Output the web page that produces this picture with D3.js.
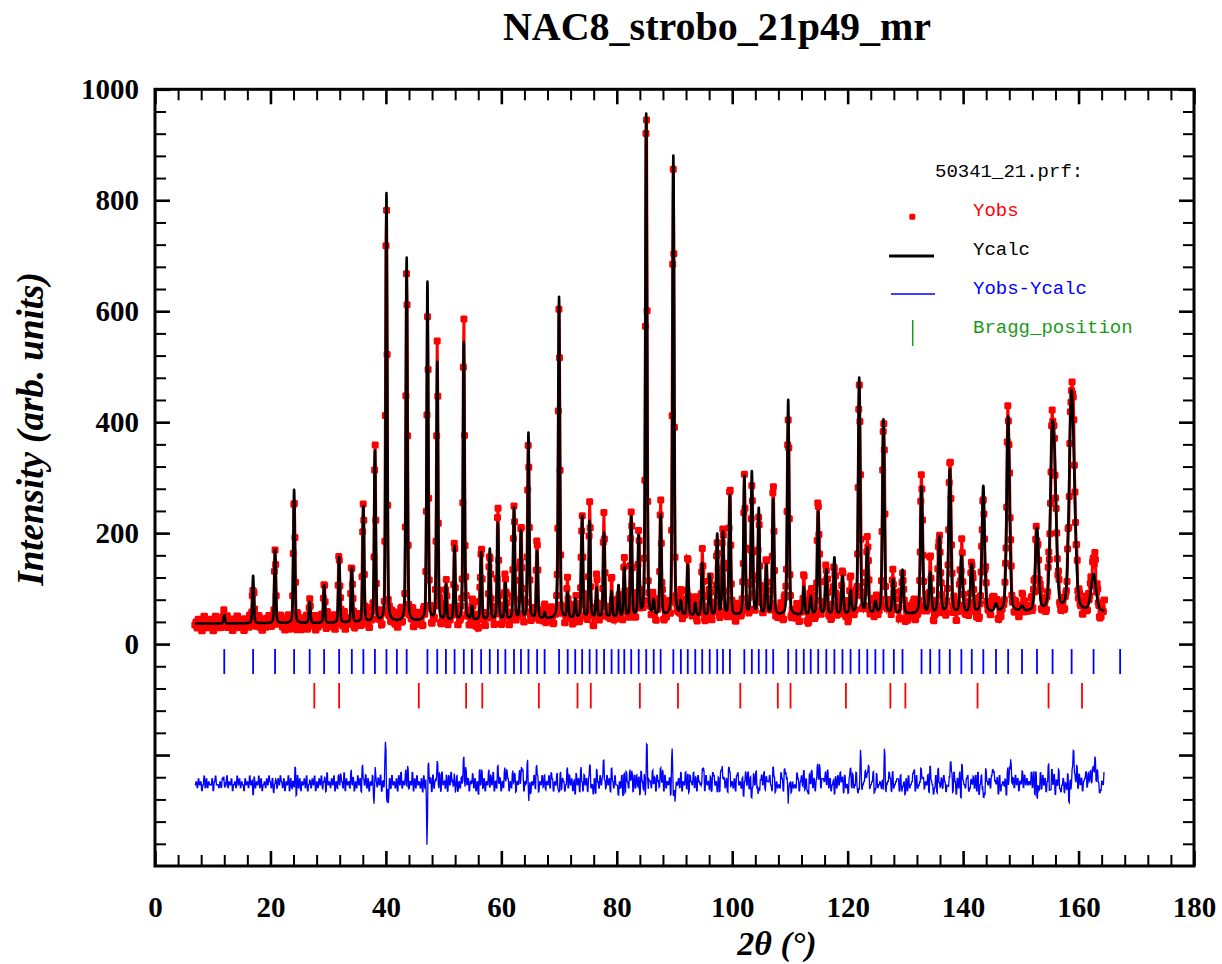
<!DOCTYPE html>
<html>
<head>
<meta charset="utf-8">
<script src="https://cdn.jsdelivr.net/npm/d3@7/dist/d3.min.js"></script>
<style>
  html,body{margin:0;padding:0;background:#ffffff;}
  svg{display:block;}
</style>
</head>
<body>
<svg id="chart" width="1222" height="964"></svg>
<script>
// ---------------- data ----------------
const chartTitle = "NAC8_strobo_21p49_mr";
const fileLabel = "50341_21.prf:";
const legendLabels = ["Yobs", "Ycalc", "Yobs-Ycalc", "Bragg_position"];
const xMajorTicks = [0, 20, 40, 60, 80, 100, 120, 140, 160, 180];
const yMajorTicks = [-200, 0, 200, 400, 600, 800, 1000];
const yLabelTicks = [0, 200, 400, 600, 800, 1000];

const scanStart = 6.9, scanEnd = 164.5;

// background points (2theta, counts)
const bgAngle = [6.9, 30, 50, 70, 90, 110, 130, 150, 164.5];
const bgLevel = [37, 38, 42, 46, 50, 52, 54, 57, 58];

// reflections: position (deg), calculated top, observed top, observed offset (deg)
const peakPos = [12.0, 17.0, 20.8, 24.1, 26.8, 29.3, 31.9, 34.1, 36.1, 38.1,
  40.1, 43.6, 47.2, 48.9, 50.4, 51.9, 53.5, 54.9, 56.5, 58.0,
  59.4, 60.7, 62.2, 63.4, 64.7, 66.2, 67.5, 70.0, 71.5, 72.8,
  74.0, 75.3, 76.5, 77.8, 79.1, 80.3, 81.3, 82.5, 83.8, 85.1,
  86.4, 87.6, 89.8, 91.1, 92.3, 93.6, 94.8, 96.1, 97.4, 98.4,
  99.6, 102.1, 103.4, 104.6, 105.9, 107.1, 109.7, 112.4, 113.6, 114.9,
  116.3, 117.7, 119.1, 120.5, 122.0, 123.4, 124.8, 126.2, 127.9, 129.5,
  132.8, 134.3, 135.9, 137.7, 139.7, 141.5, 143.5, 145.7, 147.8, 150.2,
  152.8, 155.4, 155.9, 158.7, 159.2, 162.6];
const calcTop = [52, 123, 170, 278, 76, 106, 157, 137, 248, 347,
  812, 696, 652, 507, 106, 175, 544, 67, 165, 171,
  218, 109, 245, 203, 380, 166, 56, 626, 92, 80,
  230, 221, 100, 200, 94, 105, 137, 228, 191, 955,
  75, 231, 880, 75, 142, 73, 145, 124, 197, 200,
  267, 301, 309, 243, 141, 260, 440, 103, 85, 239,
  133, 155, 121, 94, 479, 171, 74, 404, 115, 133,
  283, 127, 193, 314, 157, 142, 284, 70, 410, 66,
  206, 328, 248, 388, 208, 124];
const obsTop = [63, 125, 174, 276, 78, 104, 160, 140, 252, 350,
  817, 716, 605, 534, 110, 172, 570, 70, 168, 178,
  228, 120, 252, 222, 378, 168, 62, 615, 95, 85,
  228, 233, 98, 202, 96, 103, 141, 240, 188, 990,
  78, 246, 878, 78, 145, 75, 159, 125, 195, 214,
  265, 300, 305, 260, 140, 258, 420, 100, 88, 254,
  135, 158, 120, 111, 488, 168, 80, 428, 118, 131,
  278, 130, 190, 312, 162, 145, 290, 72, 425, 68,
  205, 330, 250, 383, 212, 150];
const obsShift = [0, 0, 0, 0, 0, 0, 0, 0, 0, 0.02,
  -0.02, 0, 0.025, 0, 0, -0.02, 0, 0, 0, 0,
  0, 0, 0, 0, -0.015, 0, 0, 0, 0, 0,
  0, 0, 0, 0, 0, 0, 0, 0, 0, 0.01,
  0, 0, -0.015, 0, 0, 0, 0, 0, 0, 0,
  0, 0, 0, 0, 0, 0, -0.02, 0, 0, 0,
  0, 0, 0, 0, 0.025, 0, 0, 0.02, 0, 0,
  0, 0, 0, 0, 0, 0, 0, 0, 0.02, 0,
  -0.03, 0, 0, 0.035, 0, 0];

// Bragg reflection markers
const braggPhase1 = [12.0, 17.0, 20.8, 24.1, 26.8, 29.3, 31.9, 34.1, 36.1, 38.1,
  40.1, 41.9, 43.6, 47.2, 48.9, 50.4, 51.9, 53.5, 54.9, 56.5,
  58.0, 59.4, 60.7, 62.2, 63.4, 64.7, 66.2, 67.5, 70.0, 71.5,
  72.8, 74.0, 75.3, 76.5, 77.8, 79.1, 80.3, 81.3, 82.5, 83.8,
  85.1, 86.4, 87.6, 89.8, 91.1, 92.3, 93.6, 94.8, 96.1, 97.4,
  98.4, 99.6, 102.1, 103.4, 104.6, 105.9, 107.1, 109.7, 111.1, 112.4,
  113.6, 114.9, 116.3, 117.7, 119.1, 120.5, 122.0, 123.4, 124.8, 126.2,
  128.0, 129.5, 132.8, 134.3, 135.9, 137.7, 139.7, 141.5, 143.5, 145.7,
  147.8, 150.2, 152.8, 155.5, 158.8, 162.6, 167.2];
const braggPhase2 = [27.6, 31.9, 45.7, 53.9, 56.7, 66.5, 73.2, 75.5, 84.0, 90.6,
  101.4, 107.9, 110.1, 119.7, 127.4, 130.0, 142.5, 154.8, 160.6];

// residual wiggle (digit 0..9, 4.5 = zero)
const diffNoise =
  "45364524736354462574435365247354624537463542645374526354736245364753624536475362" +
  "54726354817362546372453647253647356284536472536475382645374625374628547362547363" +
  "36472536482637453627483546273548263745362748354627354637284536274853647253647384" +
  "62547362518473625473648253746253748625374625473682547362547386254736254738625474" +
  "47365248374625174628537462573416285374695374628537442537162853746273746285374625" +
  "53846275364827354617283546372548362754836275436827453628745362874536287453627845" +
  "36257483624748312574836557438625343862974386253438625748362174836257483665748362" +
  "45263748562734156273485627245867934581273454627145862734566273451627345892734586" +
  "63547285413728546375244697285163718543672354637281463128546379854617245463725846" +
  "37462548374645483716254837462593374625483246254837469548374625683746254837412548";
const diffOffset = -251;

// ---------------- drawing ----------------
const svg = d3.select("#chart");
const X0 = 155, X1 = 1194, Y0 = 866, Y1 = 89.3;
const x = d3.scaleLinear().domain([0, 180]).range([X0, X1]);
const y = d3.scaleLinear().domain([-400, 1000]).range([Y0, Y1]);

const serif = "'Liberation Serif','Times New Roman',Times,serif";
const mono = "'Courier New','Liberation Mono','DejaVu Sans Mono',monospace";

// profile helpers (pseudo-Voigt, Caglioti width)
const U = 0.0215, V = 0, Wc = 0.09, eta = 0.3;
function bgAt(t) {
  if (t <= bgAngle[0]) return bgLevel[0];
  if (t >= bgAngle[bgAngle.length - 1]) return bgLevel[bgLevel.length - 1];
  const i = d3.bisectRight(bgAngle, t) - 1;
  const f = (t - bgAngle[i]) / (bgAngle[i + 1] - bgAngle[i]);
  return bgLevel[i] + f * (bgLevel[i + 1] - bgLevel[i]);
}
function fwhm(t) {
  const tn = Math.tan(t / 2 * Math.PI / 180);
  return Math.sqrt(U * tn * tn + V * tn + Wc);
}
function pv(dx, w) {
  const r = dx * dx / (w * w);
  return eta / (1 + 4 * r) + (1 - eta) * Math.exp(-4 * Math.LN2 * r);
}
function profile(t, tops, shifts) {
  let s = bgAt(t);
  for (let i = 0; i < peakPos.length; i++) {
    const p = peakPos[i] + (shifts ? shifts[i] : 0);
    const w = fwhm(peakPos[i]);
    const dx = t - p;
    if (Math.abs(dx) > 12 * w) continue;
    s += (tops[i] - bgAt(peakPos[i])) * pv(dx, w);
  }
  return s;
}

// calculated curve on a fine grid
const calcPts = d3.range(scanStart, scanEnd + 1e-9, 0.02).map(t => [t, profile(t, calcTop, null)]);

// observed points: two readings per residual sample
const nObs = diffNoise.length * 2;
const obsPts = d3.range(nObs).map(i => {
  const t = scanStart + i * (scanEnd - scanStart) / (nObs - 1);
  const c = profile(t, calcTop, null);
  const b = bgAt(t);
  const n = (+diffNoise[Math.floor(i / 2)] - 4.5) * 5.2 * Math.min(1.7, Math.sqrt(c / b));
  const o = profile(t, obsTop, obsShift) + n;
  return { t, o, c };
});

// observed markers (drawn as a band-like chain of small squares)
let markerPath = "";
obsPts.forEach(d => {
  const px = x(d.t), py = y(d.o);
  markerPath += `M${(px - 2.5).toFixed(2)},${(py - 3.5).toFixed(2)}h5l1,1v5l-1,1h-5l-1,-1v-5z`;
});
svg.append("path").attr("d", markerPath).attr("fill", "#ff0000");
// thin connecting trace between successive observations
svg.append("path")
  .datum(obsPts)
  .attr("fill", "none")
  .attr("stroke", "#ff0000")
  .attr("stroke-width", 3)
  .attr("d", d3.line().x(d => x(d.t)).y(d => y(d.o)));

// calculated line
svg.append("path")
  .datum(calcPts)
  .attr("fill", "none")
  .attr("stroke", "#000")
  .attr("stroke-width", 2.6)
  .attr("stroke-linejoin", "round")
  .attr("d", d3.line().x(d => x(d[0])).y(d => y(d[1])));

// difference curve
svg.append("path")
  .datum(obsPts)
  .attr("fill", "none")
  .attr("stroke", "#0000ff")
  .attr("stroke-width", 1.3)
  .attr("d", d3.line().x(d => x(d.t)).y(d => y(d.o - d.c + diffOffset)));

// Bragg ticks
svg.append("g").selectAll("line").data(braggPhase1).join("line")
  .attr("x1", d => x(d)).attr("x2", d => x(d))
  .attr("y1", y(-9)).attr("y2", y(-54))
  .attr("stroke", "#0000ff").attr("stroke-width", 1.8);
svg.append("g").selectAll("line").data(braggPhase2).join("line")
  .attr("x1", d => x(d)).attr("x2", d => x(d))
  .attr("y1", y(-70)).attr("y2", y(-116))
  .attr("stroke", "#ff0000").attr("stroke-width", 1.8);

// axes
const xMinor = d3.range(0, 181, 4).filter(v => v % 20 !== 0);
const yMinor = d3.range(-400, 1001, 40).filter(v => v % 200 !== 0);
function styleAxis(g, w) {
  g.select(".domain").remove();
  g.selectAll(".tick line").attr("stroke", "#000").attr("stroke-width", w);
  g.selectAll("text").attr("font-family", serif).attr("font-weight", "bold")
    .attr("font-size", 29).attr("fill", "#000");
}
svg.append("g").attr("transform", `translate(0,${Y0})`)
  .call(d3.axisBottom(x).tickValues(xMajorTicks).tickSize(-15).tickPadding(30).tickFormat(d3.format("d")))
  .call(g => styleAxis(g, 2.6));
svg.append("g").attr("transform", `translate(0,${Y0})`)
  .call(d3.axisBottom(x).tickValues(xMinor).tickSize(-11).tickFormat(""))
  .call(g => styleAxis(g, 2));
svg.append("g").attr("transform", `translate(0,${Y1})`)
  .call(d3.axisTop(x).tickValues(xMajorTicks).tickSize(-15).tickFormat(""))
  .call(g => styleAxis(g, 2.6));
svg.append("g").attr("transform", `translate(0,${Y1})`)
  .call(d3.axisTop(x).tickValues(xMinor).tickSize(-11).tickFormat(""))
  .call(g => styleAxis(g, 2));
svg.append("g").attr("transform", `translate(${X0},0)`)
  .call(d3.axisLeft(y).tickValues(yMajorTicks).tickSize(-15).tickPadding(16)
    .tickFormat(d => yLabelTicks.includes(d) ? String(d) : ""))
  .call(g => styleAxis(g, 2.6));
svg.append("g").attr("transform", `translate(${X0},0)`)
  .call(d3.axisLeft(y).tickValues(yMinor).tickSize(-11).tickFormat(""))
  .call(g => styleAxis(g, 2));
svg.append("g").attr("transform", `translate(${X1},0)`)
  .call(d3.axisRight(y).tickValues(yMajorTicks).tickSize(-15).tickFormat(""))
  .call(g => styleAxis(g, 2.6));
svg.append("g").attr("transform", `translate(${X1},0)`)
  .call(d3.axisRight(y).tickValues(yMinor).tickSize(-11).tickFormat(""))
  .call(g => styleAxis(g, 2));

// frame
svg.append("rect").attr("x", X0).attr("y", Y1).attr("width", X1 - X0).attr("height", Y0 - Y1)
  .attr("fill", "none").attr("stroke", "#000").attr("stroke-width", 3);

// title
svg.append("text").attr("x", 717).attr("y", 40).attr("text-anchor", "middle")
  .attr("font-family", serif).attr("font-weight", "bold").attr("font-size", 40)
  .text(chartTitle);

// axis titles
svg.append("text").attr("transform", "translate(43,429) rotate(-90)")
  .attr("text-anchor", "middle").attr("font-family", serif).attr("font-weight", "bold")
  .attr("font-style", "italic").attr("font-size", 37).text("Intensity (arb. units)");
svg.append("text").attr("x", 777).attr("y", 955).attr("text-anchor", "middle")
  .attr("font-family", serif).attr("font-weight", "bold").attr("font-style", "italic")
  .attr("font-size", 34).text("2\u03B8 (\u00B0)");

// legend
const lg = svg.append("g").attr("font-family", mono).attr("font-size", 19);
lg.append("text").attr("x", 935).attr("y", 177).attr("fill", "#000").text(fileLabel);
const legendColors = ["#ff0000", "#000000", "#0000ff", "#1a9a1a"];
const legendBase = [216, 255, 294, 333];
legendLabels.forEach((s, i) => {
  lg.append("text").attr("x", 973).attr("y", legendBase[i]).attr("fill", legendColors[i]).text(s);
});
lg.append("path").attr("fill", "#ff0000")
  .attr("d", "M910.3,213.7h4l1,1v4l-1,1h-4l-1,-1v-4z");
lg.append("line").attr("x1", 889).attr("x2", 934).attr("y1", 256).attr("y2", 256)
  .attr("stroke", "#000").attr("stroke-width", 3);
lg.append("line").attr("x1", 891).attr("x2", 935).attr("y1", 294).attr("y2", 294)
  .attr("stroke", "#0000ff").attr("stroke-width", 1.5);
lg.append("line").attr("x1", 912.7).attr("x2", 912.7).attr("y1", 320).attr("y2", 346)
  .attr("stroke", "#1a9a1a").attr("stroke-width", 1.5);
</script>
</body>
</html>
